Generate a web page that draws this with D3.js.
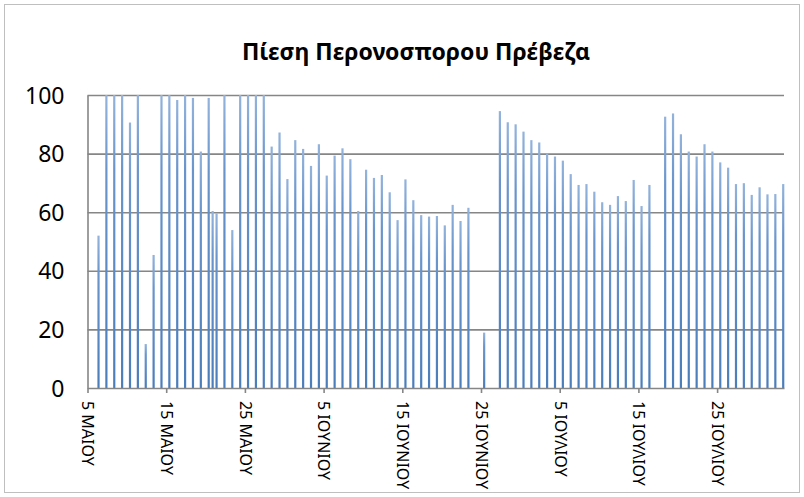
<!DOCTYPE html>
<html>
<head>
<meta charset="utf-8">
<script src="https://cdnjs.cloudflare.com/ajax/libs/d3/7.8.5/d3.min.js"></script>
<style>
  body { margin: 0; background: #fff; }
  text { font-family: "Noto Sans", "DejaVu Sans", sans-serif; fill: #000; }
</style>
</head>
<body>
<div id="chart"></div>
<script>
const chartTitle = "Πίεση Περονοσπορου Πρέβεζα";

// day number counted from 5 May (0), one bar per reading
const dayIndex = [
  1, 2, 3, 4, 5, 6, 7, 8, 9, 10, 11, 12, 13, 14, 15, 15.5, 16, 17, 18, 19,
  20, 21, 22, 23, 24, 25, 26, 27, 28, 29, 30, 31, 32, 33, 34, 35, 36, 37, 38, 39,
  40, 41, 42, 43, 44, 45, 46, 47, 48, 50, 52, 53, 54, 55, 56, 57, 58, 59, 60, 61,
  62, 63, 64, 65, 66, 67, 68, 69, 70, 71, 73, 74, 75, 76, 77, 78, 79, 80, 81, 82,
  83, 84, 85, 86, 87, 88
];
const pressure = [
  52, 100, 100, 100, 90.6, 100, 15, 45.4, 100, 100, 98.3, 100, 99, 80.7, 99, 60.4, 59.6, 100, 53.9, 100,
  100, 100, 100, 82.4, 87.2, 71.3, 84.6, 81.6, 75.8, 83.2, 72.5, 79.3, 81.8, 78.1, 60.4, 74.5, 71.7, 72.7, 66.8, 57.3,
  71.2, 64.1, 59.0, 58.5, 58.7, 55.5, 62.5, 57.0, 61.5, 18.9, 94.5, 90.7, 90.0, 87.5, 84.6, 83.8, 80.0, 79.0, 77.6, 73.0,
  69.3, 69.6, 67.0, 63.4, 62.5, 65.5, 63.8, 71.0, 62.1, 69.3, 92.6, 93.7, 86.6, 80.7, 79.0, 83.2, 80.7, 77.0, 75.2, 69.6,
  69.9, 65.9, 68.5, 66.1, 66.2, 69.6
];

const tickDays = [0, 10, 20, 30, 40, 50, 60, 70, 80];
const tickLabels = [
  "5 ΜΑΙΟΥ", "15 ΜΑΙΟΥ", "25 ΜΑΙΟΥ", "5 ΙΟΥΝΙΟΥ", "15 ΙΟΥΝΙΟΥ",
  "25 ΙΟΥΝΙΟΥ", "5 ΙΟΥΛΙΟΥ", "15 ΙΟΥΛΙΟΥ", "25 ΙΟΥΛΙΟΥ"
];
const yTicks = [0, 20, 40, 60, 80, 100];

const W = 804, H = 497;
const plot = {left: 87.5, right: 784, top: 95, bottom: 388};
const barColor = '#4a7dbb';
const gridColor = '#868686';

function drawChart() {
    const svg = d3.select("#chart")
        .append("svg")
        .attr("width", W)
        .attr("height", H);

    // chart border
    svg.append("rect")
        .attr("x", 4.5)
        .attr("y", 4.5)
        .attr("width", W - 9)
        .attr("height", H - 9)
        .attr("fill", "none")
        .attr("stroke", "#bfbfbf")
        .attr("stroke-width", 1);

    const x = d3.scaleLinear()
        .domain([0, 88.5])
        .range([plot.left, plot.right]);
    const y = d3.scaleLinear()
        .domain([0, 100])
        .range([plot.bottom, plot.top]);

    // gradient so the bars look like the Excel fill
    const grad = svg.append("defs").append("linearGradient")
        .attr("id", "barFill")
        .attr("x1", 0).attr("y1", 0).attr("x2", 0).attr("y2", 1);
    grad.append("stop").attr("offset", "0%").attr("stop-color", "#93b3dc");
    grad.append("stop").attr("offset", "25%").attr("stop-color", "#6a95cc");
    grad.append("stop").attr("offset", "100%").attr("stop-color", barColor);

    // horizontal gridlines
    svg.append("g")
        .attr("transform", `translate(${plot.left}, 0)`)
        .call(d3.axisLeft(y).tickValues(yTicks.slice(1)).tickSize(-(plot.right - plot.left)).tickFormat(""))
        .call(g => g.select(".domain").remove())
        .selectAll("line")
            .attr("stroke", gridColor)
            .attr("stroke-width", 1.6);

    // bars
    const barData = dayIndex.map((d, i) => ({day: d, value: pressure[i]}));
    const barW = 2.2;
    svg.append("g")
        .selectAll("rect")
        .data(barData)
        .enter()
        .append("rect")
        .attr("x", d => x(d.day + 0.4) - barW / 2)
        .attr("y", d => y(d.value))
        .attr("width", barW)
        .attr("height", d => y(0) - y(d.value))
        .attr("fill", "url(#barFill)");

    // y axis labels
    const yAxis = svg.append("g")
        .attr("transform", `translate(${plot.left}, 0)`)
        .call(d3.axisLeft(y).tickValues(yTicks).tickSize(0).tickPadding(23));
    yAxis.select(".domain")
        .attr("stroke", gridColor)
        .attr("stroke-width", 1.6);
    yAxis.selectAll("text")
        .style("font-size", "23px")
        .attr("dy", "0.35em");

    // x axis
    const xAxis = svg.append("g")
        .attr("transform", `translate(0, ${plot.bottom})`)
        .call(d3.axisBottom(x)
            .tickValues(tickDays)
            .tickFormat((d, i) => tickLabels[i])
            .tickSizeInner(5)
            .tickSizeOuter(0));
    xAxis.select(".domain")
        .attr("stroke", gridColor)
        .attr("stroke-width", 1.6);
    xAxis.selectAll(".tick line")
        .attr("stroke", gridColor)
        .attr("stroke-width", 1.6);
    xAxis.selectAll("text")
        .style("font-size", "16px")
        .style("text-anchor", "start")
        .attr("transform", "rotate(90)")
        .attr("x", 13)
        .attr("y", 0)
        .attr("dy", "0.35em");

    // title
    svg.append("text")
        .attr("x", 416)
        .attr("y", 60)
        .style("text-anchor", "middle")
        .style("font-size", "23px")
        .style("font-weight", "bold")
        .text(chartTitle);
}

drawChart();
</script>
</body>
</html>
